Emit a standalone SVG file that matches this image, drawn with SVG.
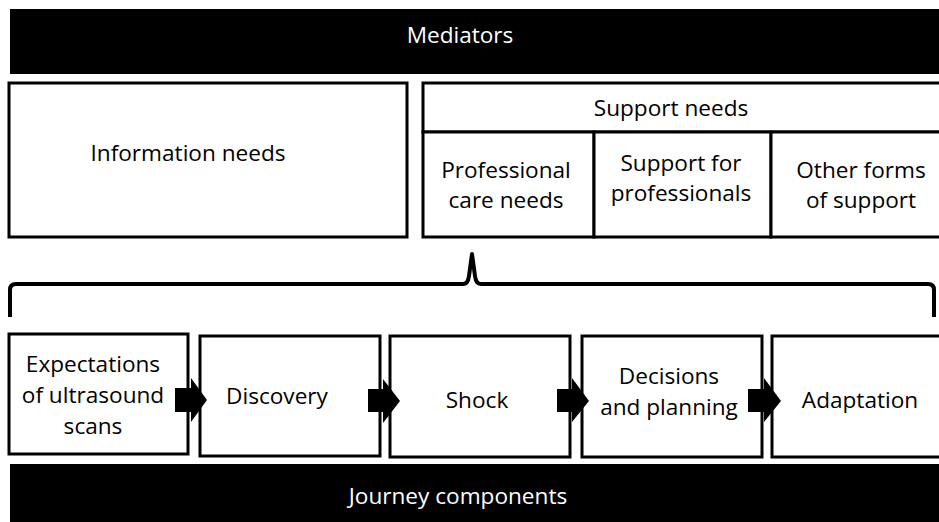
<svg xmlns="http://www.w3.org/2000/svg" width="939" height="522" viewBox="0 0 939 522">
<style>
.bar{fill:#000}
.box{fill:#fff;stroke:#000;stroke-width:3}
.t{font-family:"Open Sans","Liberation Sans",sans-serif;font-size:22.6px;fill:#000;text-anchor:middle}
.tw{font-family:"Open Sans","Liberation Sans",sans-serif;font-size:22.6px;fill:#fff;text-anchor:middle}
.brace{fill:none;stroke:#000;stroke-width:4;stroke-linejoin:round}
.arr{fill:#000}
</style>
<rect width="939" height="522" fill="#fff"/>
<g id="mediators">
<rect class="bar" x="10" y="9" width="929" height="65"/>
<text class="tw" x="460" y="43">Mediators</text>
</g>
<g id="information-needs">
<rect class="box" x="9" y="83" width="398" height="154"/>
<text class="t" x="188" y="161">Information needs</text>
</g>
<g id="support-needs">
<rect class="box" x="423" y="83" width="520" height="49"/>
<text class="t" x="671" y="116">Support needs</text>
</g>
<g id="professional-care-needs">
<rect class="box" x="423" y="132" width="171" height="105"/>
<text class="t" x="506" y="178">Professional</text>
<text class="t" x="506" y="208">care needs</text>
</g>
<g id="support-for-professionals">
<rect class="box" x="594" y="132" width="177" height="105"/>
<text class="t" x="681" y="171">Support for</text>
<text class="t" x="681" y="201">professionals</text>
</g>
<g id="other-forms-of-support">
<rect class="box" x="771" y="132" width="172" height="105"/>
<text class="t" x="861" y="178">Other forms</text>
<text class="t" x="861" y="208">of support</text>
</g>
<g id="brace">
<path class="brace" d="M10,317 L10,290 Q10,284 16,284 L463,284 Q468,284 469,276 L472,254 L475,276 Q476,284 481,284 L928,284 Q934,284 934,290 L934,317"/>
</g>
<g id="expectations">
<rect class="box" x="9" y="334" width="179" height="120"/>
<text class="t" x="93" y="372">Expectations</text>
<text class="t" x="93" y="403">of ultrasound</text>
<text class="t" x="93" y="434">scans</text>
</g>
<g id="discovery">
<rect class="box" x="200" y="336" width="180" height="120"/>
<text class="t" x="277" y="404">Discovery</text>
</g>
<g id="shock">
<rect class="box" x="390" y="336" width="180" height="121"/>
<text class="t" x="477" y="408">Shock</text>
</g>
<g id="decisions">
<rect class="box" x="582" y="336" width="180" height="121"/>
<text class="t" x="669" y="384">Decisions</text>
<text class="t" x="669" y="415">and planning</text>
</g>
<g id="adaptation">
<rect class="box" x="772" y="336" width="171" height="121"/>
<text class="t" x="860" y="408">Adaptation</text>
</g>
<g id="connectors">
<polygon class="arr" points="175,388 191,388 191,378 207,400 191,422 191,412 175,412"/>
<polygon class="arr" points="368,389 383,389 383,379 400,401 383,423 383,412 368,412"/>
<polygon class="arr" points="557,389 572,389 572,378 589,401 572,422 572,412 557,412"/>
<polygon class="arr" points="748,389 764,389 764,378 781,401 764,422 764,412 748,412"/>
</g>
<g id="journey-components">
<rect class="bar" x="10" y="464" width="929" height="58"/>
<text class="tw" x="458" y="504">Journey components</text>
</g>
</svg>
